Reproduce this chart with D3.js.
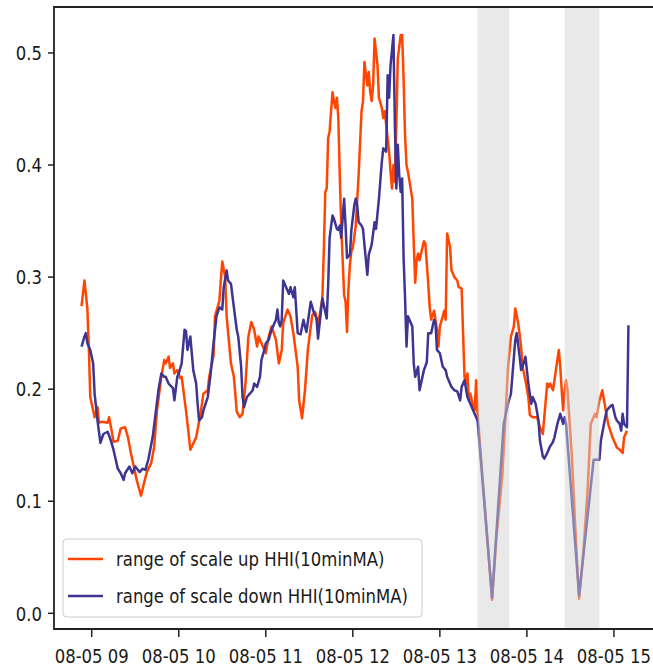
<!DOCTYPE html>
<html>
<head>
<meta charset="utf-8">
<script src="https://cdn.jsdelivr.net/npm/d3@7"></script>
<style>
  body { margin: 0; background: #fff; }
  svg { display: block; }
  text { font-family: "DejaVu Sans", sans-serif; fill: #1a1a1a; }
</style>
</head>
<body>
<svg id="chart" width="653" height="671"></svg>
<script>
// 10 minute moving average of HHI
const scaleUp = [
  ["08:53",0.274],["08:55",0.297],["08:57",0.272],["08:58",0.238],["08:59",0.193],["09:02",0.175],["09:04",0.184],["09:05",0.170],
  ["09:07",0.171],["09:11",0.170],["09:12",0.175],["09:14",0.161],["09:15",0.153],["09:18",0.154],["09:20",0.165],["09:23",0.166],
  ["09:25",0.157],["09:27",0.143],["09:29",0.131],["09:31",0.119],["09:34",0.105],["09:36",0.116],["09:38",0.126],["09:41",0.134],
  ["09:43",0.148],["09:45",0.181],["09:48",0.211],["09:50",0.226],["09:51",0.223],["09:53",0.229],["09:54",0.219],["09:56",0.223],
  ["09:57",0.214],["09:59",0.217],["10:01",0.210],["10:02",0.211],["10:05",0.181],["10:08",0.146],["10:12",0.157],["10:15",0.178],
  ["10:17",0.196],["10:20",0.199],["10:21",0.211],["10:24",0.230],["10:25",0.265],["10:28",0.279],["10:29",0.297],["10:30",0.314],
  ["10:32",0.300],["10:33",0.265],["10:36",0.223],["10:38",0.211],["10:40",0.180],["10:42",0.175],["10:44",0.178],["10:46",0.205],
  ["10:48",0.247],["10:50",0.260],["10:52",0.253],["10:54",0.238],["10:55",0.247],["10:57",0.241],["11:00",0.232],["11:02",0.247],
  ["11:04",0.256],["11:07",0.244],["11:09",0.223],["11:11",0.235],["11:12",0.259],["11:15",0.271],["11:17",0.265],["11:19",0.250],
  ["11:22",0.220],["11:23",0.190],["11:25",0.174],["11:27",0.199],["11:29",0.235],["11:32",0.266],["11:34",0.269],["11:36",0.257],
  ["11:39",0.281],["11:40",0.323],["11:41",0.376],["11:42",0.379],["11:43",0.424],["11:44",0.430],["11:46",0.465],["11:47",0.457],
  ["11:48",0.451],["11:49",0.460],["11:50",0.442],["11:51",0.391],["11:52",0.346],["11:54",0.284],["11:55",0.278],["11:56",0.251],
  ["11:57",0.290],["11:58",0.311],["11:59",0.323],["12:00",0.326],["12:02",0.346],["12:04",0.391],["12:06",0.448],["12:07",0.457],
  ["12:08",0.492],["12:10",0.471],["12:11",0.483],["12:12",0.465],["12:13",0.457],["12:14",0.471],["12:15",0.513],["12:17",0.489],
  ["12:18",0.460],["12:20",0.451],["12:21",0.442],["12:22",0.448],["12:23",0.436],["12:25",0.412],["12:26",0.394],["12:27",0.379],
  ["12:28",0.400],["12:29",0.385],["12:30",0.436],["12:31",0.495],["12:33",0.516],["12:34",0.516],["12:35",0.477],["12:36",0.427],
  ["12:37",0.400],["12:38",0.394],["12:41",0.370],["12:42",0.330],["12:43",0.295],["12:44",0.315],["12:45",0.321],["12:46",0.315],
  ["12:49",0.332],["12:50",0.330],["12:51",0.312],["12:52",0.294],["12:53",0.273],["12:54",0.262],["12:56",0.270],["12:58",0.253],
  ["12:59",0.238],["13:00",0.256],["13:02",0.265],["13:03",0.270],["13:04",0.262],["13:05",0.339],["13:07",0.327],["13:08",0.306],
  ["13:10",0.300],["13:12",0.297],["13:13",0.291],["13:15",0.290],["13:16",0.250],["13:17",0.211],["13:18",0.205],["13:19",0.214],
  ["13:20",0.190],["13:21",0.196],["13:23",0.184],["13:24",0.181],["13:25",0.208],["13:26",0.178],["13:36",0.012],["13:39",0.068],
  ["13:43",0.122],["13:45",0.170],["13:47",0.220],["13:49",0.247],["13:51",0.256],["13:52",0.272],["13:54",0.259],["13:56",0.238],
  ["13:57",0.220],["13:59",0.208],["14:01",0.193],["14:02",0.177],["14:04",0.175],["14:07",0.175],["14:09",0.166],["14:11",0.160],
  ["14:12",0.175],["14:14",0.205],["14:15",0.202],["14:16",0.205],["14:18",0.199],["14:19",0.208],["14:20",0.217],["14:22",0.235],
  ["14:23",0.220],["14:24",0.199],["14:25",0.181],["14:26",0.199],["14:27",0.208],["14:28",0.199],["14:31",0.140],["14:33",0.086],
  ["14:35",0.035],["14:36",0.013],["14:39",0.056],["14:42",0.113],["14:44",0.169],["14:47",0.178],["14:48",0.175],["14:50",0.190],
  ["14:52",0.199],["14:54",0.184],["14:56",0.169],["14:59",0.157],["15:02",0.148],["15:04",0.146],["15:06",0.143],["15:07",0.157],
  ["15:09",0.163]
]

const scaleDown = [
  ["08:53",0.238],["08:55",0.247],["08:56",0.250],["08:57",0.241],["08:59",0.235],["09:01",0.223],["09:02",0.196],["09:04",0.172],
  ["09:06",0.152],["09:08",0.160],["09:11",0.162],["09:13",0.155],["09:15",0.146],["09:18",0.129],["09:20",0.125],["09:22",0.119],
  ["09:23",0.125],["09:26",0.131],["09:28",0.125],["09:30",0.131],["09:33",0.126],["09:35",0.129],["09:37",0.128],["09:39",0.137],
  ["09:42",0.157],["09:44",0.178],["09:46",0.199],["09:48",0.214],["09:50",0.211],["09:51",0.211],["09:53",0.205],["09:56",0.201],
  ["09:57",0.190],["09:59",0.211],["10:00",0.214],["10:02",0.223],["10:04",0.253],["10:05",0.252],["10:06",0.235],["10:08",0.247],
  ["10:09",0.232],["10:10",0.217],["10:12",0.205],["10:13",0.187],["10:14",0.172],["10:16",0.175],["10:17",0.181],["10:20",0.193],
  ["10:22",0.214],["10:24",0.241],["10:26",0.265],["10:28",0.273],["10:30",0.271],["10:31",0.291],["10:33",0.306],["10:34",0.297],
  ["10:36",0.294],["10:38",0.273],["10:40",0.253],["10:41",0.247],["10:43",0.220],["10:44",0.193],["10:45",0.184],["10:47",0.193],
  ["10:49",0.196],["10:51",0.199],["10:52",0.205],["10:54",0.202],["10:56",0.211],["10:57",0.226],["10:59",0.235],["11:00",0.241],
  ["11:02",0.244],["11:04",0.253],["11:07",0.262],["11:08",0.271],["11:09",0.259],["11:10",0.256],["11:11",0.262],["11:12",0.297],
  ["11:14",0.291],["11:16",0.285],["11:17",0.291],["11:19",0.282],["11:20",0.291],["11:22",0.250],["11:24",0.249],["11:26",0.262],
  ["11:27",0.256],["11:28",0.251],["11:31",0.278],["11:33",0.269],["11:35",0.263],["11:36",0.245],["11:39",0.281],["11:41",0.269],
  ["11:42",0.263],["11:43",0.293],["11:44",0.335],["11:46",0.355],["11:47",0.352],["11:49",0.343],["11:50",0.342],["11:51",0.346],
  ["11:52",0.335],["11:54",0.370],["11:55",0.346],["11:56",0.317],["11:58",0.320],["11:59",0.342],["12:01",0.364],["12:02",0.370],
  ["12:03",0.364],["12:04",0.349],["12:06",0.346],["12:07",0.343],["12:08",0.329],["12:10",0.302],["12:11",0.320],["12:13",0.329],
  ["12:15",0.349],["12:16",0.343],["12:18",0.370],["12:20",0.403],["12:21",0.415],["12:23",0.412],["12:24",0.480],["12:25",0.460],
  ["12:26",0.489],["12:28",0.516],["12:29",0.436],["12:30",0.379],["12:31",0.418],["12:32",0.391],["12:33",0.376],["12:34",0.388],
  ["12:35",0.317],["12:36",0.282],["12:37",0.238],["12:38",0.265],["12:41",0.256],["12:42",0.223],["12:43",0.211],["12:45",0.220],
  ["12:46",0.199],["12:49",0.217],["12:51",0.224],["12:52",0.250],["12:54",0.250],["12:56",0.262],["12:57",0.259],["12:58",0.235],
  ["13:00",0.232],["13:02",0.220],["13:04",0.217],["13:05",0.211],["13:07",0.205],["13:08",0.202],["13:10",0.199],["13:12",0.198],
  ["13:14",0.190],["13:15",0.202],["13:17",0.208],["13:19",0.193],["13:21",0.187],["13:23",0.181],["13:25",0.175],["13:26",0.172],
  ["13:36",0.014],["13:44",0.169],["13:47",0.187],["13:49",0.196],["13:52",0.244],["13:53",0.250],["13:55",0.229],["13:56",0.217],
  ["13:57",0.220],["13:59",0.229],["14:01",0.205],["14:03",0.187],["14:04",0.193],["14:06",0.187],["14:08",0.172],["14:09",0.154],
  ["14:11",0.140],["14:12",0.138],["14:14",0.143],["14:16",0.149],["14:18",0.153],["14:19",0.157],["14:21",0.169],["14:23",0.178],
  ["14:25",0.169],["14:26",0.175],["14:27",0.169],["14:36",0.016],["14:46",0.137],["14:50",0.137],["14:51",0.154],["14:54",0.175],
  ["14:55",0.181],["14:57",0.184],["14:59",0.186],["15:01",0.175],["15:02",0.172],["15:04",0.169],["15:05",0.163],["15:06",0.178],
  ["15:07",0.169],["15:09",0.166],["15:10",0.257]
]

// shaded windows
const spans = [["13:26","13:48"], ["14:26","14:50"]]

const yTicks = [0.0, 0.1, 0.2, 0.3, 0.4, 0.5]
const xTicks = ["09:00","10:00","11:00","12:00","13:00","14:00","15:00"]
const xDomain = ["08:34","15:29"]
const yDomain = [-0.014, 0.541]

const seriesNames = ["range of scale up HHI(10minMA)", "range of scale down HHI(10minMA)"]
const seriesColors = ["#ff4500", "#3d3591"]

const parseHM = d3.timeParse("%Y-%m-%d %H:%M")
const t = s => parseHM("2021-08-05 " + s)
const fmt = d3.timeFormat("%m-%d %H")

const plot = {left: 54, right: 656, top: 7, bottom: 629}
const FS = 16.5, SY = 1.2   // picture is stretched a bit vertically

const svg = d3.select('#chart')

const x = d3.scaleTime()
  .domain(xDomain.map(t))
  .range([plot.left, plot.right])
const y = d3.scaleLinear()
  .domain(yDomain)
  .range([plot.bottom, plot.top])

const line = d3.line()
  .x(d => x(t(d[0])))
  .y(d => y(d[1]))

// lines, up first then down on top
;[scaleUp, scaleDown].forEach((s, i) => {
  svg.append('path')
    .datum(s)
    .attr('fill', 'none')
    .attr('stroke', seriesColors[i])
    .attr('stroke-width', 2.5)
    .attr('stroke-linejoin', 'round')
    .attr('d', line)
})

// gray windows drawn over the lines
svg.append('g').selectAll('rect')
  .data(spans)
  .join('rect')
  .attr('x', d => x(t(d[0])))
  .attr('width', d => x(t(d[1])) - x(t(d[0])))
  .attr('y', plot.top)
  .attr('height', plot.bottom - plot.top)
  .attr('fill', '#d3d3d3')
  .attr('opacity', 0.5)

// spines
svg.append('path')
  .attr('d', `M${plot.right},${plot.top}H${plot.left}V${plot.bottom}H${plot.right}`)
  .attr('fill', 'none')
  .attr('stroke', '#222')
  .attr('stroke-width', 1.8)

// y ticks
const gy = svg.append('g')
yTicks.forEach(v => {
  gy.append('line')
    .attr('x1', plot.left - 6).attr('x2', plot.left)
    .attr('y1', y(v)).attr('y2', y(v))
    .attr('stroke', '#222').attr('stroke-width', 1.5)
  gy.append('text')
    .attr('transform', `translate(${plot.left - 12},${y(v) + 0.364 * FS * SY}) scale(1,${SY})`)
    .attr('text-anchor', 'end')
    .style('font-size', FS + 'px')
    .text(v.toFixed(1))
})

// x ticks
const gx = svg.append('g')
xTicks.forEach(s => {
  const px = x(t(s))
  gx.append('line')
    .attr('x1', px).attr('x2', px)
    .attr('y1', plot.bottom).attr('y2', plot.bottom + 8)
    .attr('stroke', '#222').attr('stroke-width', 1.5)
  gx.append('text')
    .attr('transform', `translate(${px},663) scale(1,${SY})`)
    .attr('text-anchor', 'middle')
    .style('font-size', FS + 'px')
    .text(fmt(t(s)))
})

// legend
const lg = svg.append('g')
lg.append('rect')
  .attr('x', 63).attr('y', 539)
  .attr('width', 359).attr('height', 78)
  .attr('rx', 4)
  .attr('fill', '#fff').attr('fill-opacity', 0.8)
  .attr('stroke', '#cccccc')
seriesNames.forEach((n, i) => {
  const ly = 559 + i * 37
  lg.append('line')
    .attr('x1', 68).attr('x2', 103)
    .attr('y1', ly).attr('y2', ly)
    .attr('stroke', seriesColors[i]).attr('stroke-width', 2.5)
  lg.append('text')
    .attr('transform', `translate(116,${ly + 0.36 * FS * SY}) scale(1,${SY})`)
    .style('font-size', FS + 'px')
    .text(n)
})
</script>
</body>
</html>
